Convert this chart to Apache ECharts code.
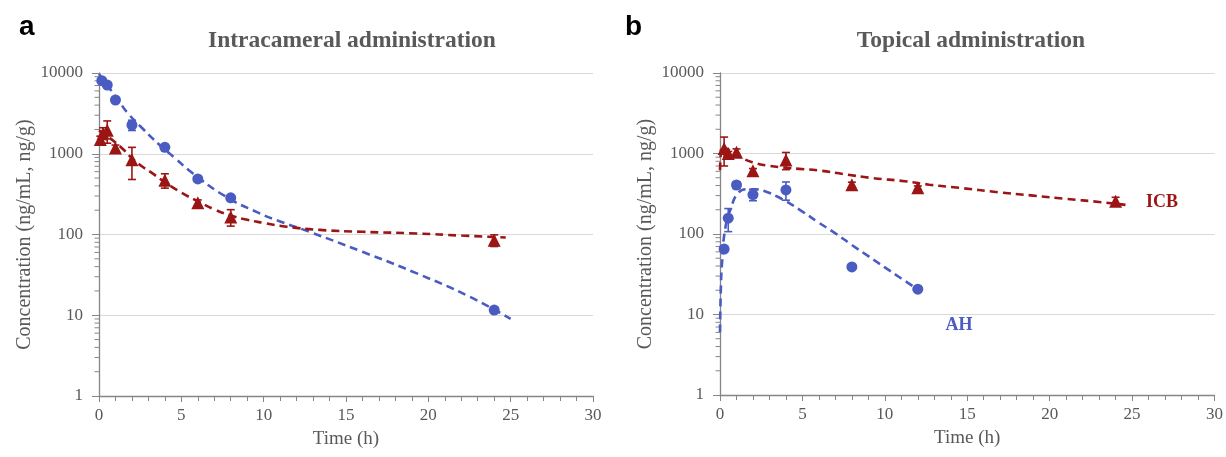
<!DOCTYPE html>
<html><head><meta charset="utf-8">
<script src="https://cdn.jsdelivr.net/npm/echarts@6/dist/echarts.min.js"></script>
<style>html,body{margin:0;padding:0;background:#fff}#c{width:1226px;height:457px}</style>
</head><body><div id="c"></div>
<script>
// ---------- DATA ----------
// Panel a: Intracameral administration
const timeA_AH = [0.17, 0.5, 1, 2, 4, 6, 8, 24];
const concA_AH = [8030, 7100, 4630, 2270, 1200, 487, 285, 11.6];
const sdA_AH   = [500, 400, 200, 330, 100, 30, 20, 1];
const timeA_ICB = [0.08, 0.25, 0.5, 1, 2, 4, 6, 8, 24];
const concA_ICB = [1500, 1800, 1950, 1180, 840, 470, 248, 165, 85];
const sdA_ICB   = [150, 300, 600, 100, 360, 95, 20, 38, 14];
const fitA_AH_t = [0, 0.6, 1.2, 1.72, 2.6, 3.65, 4.6, 5.67, 7.7, 9.7, 11, 12.78, 16, 19.3, 22.5, 25];
const fitA_AH_c = [9700, 6620, 4520, 3230, 2100, 1300, 890, 577, 295, 185, 145, 108, 61, 33, 17, 9];
const fitA_ICB_t = [0, 0.5, 1, 1.5, 2, 2.6, 3.1, 4, 5, 6, 7, 8, 9, 10, 11.4, 13.4, 16, 19.3, 22, 24.7];
const fitA_ICB_c = [1950, 1650, 1380, 1120, 880, 700, 600, 445, 330, 258, 205, 172, 152, 139, 125, 114, 108, 103, 97, 92];

// Panel b: Topical administration
const timeB_AH = [0.25, 0.5, 1, 2, 4, 8, 12];
const concB_AH = [65, 157, 406, 309, 353, 39, 20.6];
const sdB_AH   = [5, 50, 40, 50, 90, 2, 1];
const timeB_ICB = [0.25, 0.5, 1, 2, 4, 8, 12, 24];
const concB_ICB = [1150, 1000, 1040, 610, 830, 410, 375, 256];
const sdB_ICB   = [450, 60, 100, 40, 200, 30, 20, 30];
const fitB_AH_t = [0, 0.05, 0.13, 0.33, 0.68, 1.08, 1.59, 2.2, 2.8, 3.5, 4, 5, 6, 7, 8, 9, 10, 11, 12];
const fitB_AH_c = [6, 20, 46, 121, 214, 320, 360, 358, 335, 290, 255, 190, 138, 102, 73, 53, 38.5, 28, 20.5];
const fitB_ICB_t = [0, 0.05, 0.12, 0.4, 0.78, 1.38, 2, 2.8, 4, 4.8, 6, 7.5, 9.26, 11.2, 12.7, 14.5, 16.9, 19, 21, 23, 24.6];
const fitB_ICB_c = [620, 1000, 1250, 1150, 1040, 870, 775, 712, 665, 645, 615, 555, 495, 453, 410, 375, 330, 300, 273, 250, 230];

// Axis ticks
const yMinor = [2,3,4,5,6,7,8,9,20,30,40,50,60,70,80,90,200,300,400,500,600,700,800,900,2000,3000,4000,5000,6000,7000,8000,9000];

// ---------- STYLE ----------
const BLUE = '#4A5BC2';
const RED = '#9C1515';
const SERIF = '"Liberation Serif", "Times New Roman", serif';
const GREY = '#595959';

const zip = (a, b) => a.map((v, i) => [v, b[i]]);
const errData = (t, c, s) => t.map((v, i) => [v, Math.max(c[i] - s[i], 1.01), c[i] + s[i]]);

function xAxis(gi) {
  return {
    type: 'value', gridIndex: gi, min: 0, max: 30, interval: 5,
    name: 'Time (h)', nameLocation: 'middle', nameGap: 34,
    nameTextStyle: { fontFamily: SERIF, fontSize: 19, color: GREY },
    axisLine: { lineStyle: { color: '#868686', width: 1.3 } },
    axisTick: { show: true, length: 6, lineStyle: { color: '#868686' } },
    minorTick: { show: true, splitNumber: 5, length: 5, lineStyle: { color: '#868686' } },
    axisLabel: { fontFamily: SERIF, fontSize: 17, color: GREY, margin: 11 },
    splitLine: { show: false }
  };
}
function yAxis(gi) {
  return {
    type: 'log', logBase: 10, gridIndex: gi, min: 1, max: 10000,
    name: 'Concentration (ng/mL, ng/g)', nameLocation: 'middle', nameGap: 64,
    nameTextStyle: { fontFamily: SERIF, fontSize: 20, color: GREY },
    axisLine: { show: true, lineStyle: { color: '#868686', width: 1.3 } },
    axisTick: { show: true, length: 7, lineStyle: { color: '#868686' } },
    axisLabel: { fontFamily: SERIF, fontSize: 17, color: GREY, margin: 16,
                 formatter: v => String(Math.round(v)) },
    splitLine: { show: true, lineStyle: { color: '#d9d9d9', width: 1.2 } }
  };
}

function fitSeries(gi, t, c, color) {
  return {
    type: 'line', xAxisIndex: gi, yAxisIndex: gi, data: zip(t, c), smooth: 0.5,
    showSymbol: false, symbol: 'none', z: 2,
    lineStyle: { color: color, width: 2.6, type: [8, 5] }
  };
}
function pointSeries(gi, t, c, color, symbol, size) {
  return {
    type: 'scatter', xAxisIndex: gi, yAxisIndex: gi, data: zip(t, c),
    symbol: symbol, symbolSize: size, z: 4,
    itemStyle: { color: color, opacity: 1 }
  };
}
function errSeries(gi, t, c, s, color) {
  return {
    type: 'custom', xAxisIndex: gi, yAxisIndex: gi, z: 3,
    data: errData(t, c, s),
    encode: { x: 0, y: [1, 2] },
    renderItem: function (params, api) {
      const x = api.value(0);
      const lo = api.coord([x, api.value(1)]);
      const hi = api.coord([x, api.value(2)]);
      const w = 4;
      const st = { stroke: color, lineWidth: 1.6 };
      return { type: 'group', children: [
        { type: 'line', shape: { x1: lo[0], y1: lo[1], x2: hi[0], y2: hi[1] }, style: st },
        { type: 'line', shape: { x1: hi[0] - w, y1: hi[1], x2: hi[0] + w, y2: hi[1] }, style: st },
        { type: 'line', shape: { x1: lo[0] - w, y1: lo[1], x2: lo[0] + w, y2: lo[1] }, style: st }
      ] };
    }
  };
}
function minorTickSeries(gi) {
  return {
    type: 'custom', xAxisIndex: gi, yAxisIndex: gi, clip: false, silent: true, z: 1,
    data: yMinor.map(v => [0, v]),
    encode: { x: 0, y: 1 },
    renderItem: function (params, api) {
      const p = api.coord([0, api.value(1)]);
      return { type: 'line', shape: { x1: p[0] - 4.5, y1: p[1], x2: p[0], y2: p[1] },
               style: { stroke: '#868686', lineWidth: 1 } };
    }
  };
}

const chart = echarts.init(document.getElementById('c'), null, { renderer: 'canvas' });
chart.setOption({
  animation: false,
  backgroundColor: '#fff',
  grid: [
    { left: 99, top: 73, width: 494, height: 323 },
    { left: 720, top: 73, width: 495, height: 322 }
  ],
  xAxis: [xAxis(0), xAxis(1)],
  yAxis: [yAxis(0), yAxis(1)],
  graphic: [
    { type: 'text', left: 19, top: 13, style: { text: 'a', font: 'bold 28px "Liberation Sans", Arial, sans-serif', fill: '#000' } },
    { type: 'text', left: 625, top: 13, style: { text: 'b', font: 'bold 28px "Liberation Sans", Arial, sans-serif', fill: '#000' } },
    { type: 'text', x: 352, y: 41, style: { text: 'Intracameral administration', font: 'bold 23.5px "Liberation Serif", "Times New Roman", serif', fill: GREY, textAlign: 'center', textVerticalAlign: 'middle' } },
    { type: 'text', x: 971, y: 41, style: { text: 'Topical administration', font: 'bold 23.5px "Liberation Serif", "Times New Roman", serif', fill: GREY, textAlign: 'center', textVerticalAlign: 'middle' } },
    { type: 'text', x: 1162, y: 202, style: { text: 'ICB', font: 'bold 18px "Liberation Serif", "Times New Roman", serif', fill: RED, textAlign: 'center', textVerticalAlign: 'middle' } },
    { type: 'text', x: 959, y: 325, style: { text: 'AH', font: 'bold 18px "Liberation Serif", "Times New Roman", serif', fill: BLUE, textAlign: 'center', textVerticalAlign: 'middle' } }
  ],
  series: [
    minorTickSeries(0), minorTickSeries(1),
    fitSeries(0, fitA_AH_t, fitA_AH_c, BLUE),
    fitSeries(0, fitA_ICB_t, fitA_ICB_c, RED),
    errSeries(0, timeA_AH, concA_AH, sdA_AH, BLUE),
    errSeries(0, timeA_ICB, concA_ICB, sdA_ICB, RED),
    pointSeries(0, timeA_AH, concA_AH, BLUE, 'circle', 11),
    pointSeries(0, timeA_ICB, concA_ICB, RED, 'triangle', 13),
    fitSeries(1, fitB_AH_t, fitB_AH_c, BLUE),
    fitSeries(1, fitB_ICB_t, fitB_ICB_c, RED),
    errSeries(1, timeB_AH, concB_AH, sdB_AH, BLUE),
    errSeries(1, timeB_ICB, concB_ICB, sdB_ICB, RED),
    pointSeries(1, timeB_AH, concB_AH, BLUE, 'circle', 11),
    pointSeries(1, timeB_ICB, concB_ICB, RED, 'triangle', 13)
  ]
});
</script></body></html>
